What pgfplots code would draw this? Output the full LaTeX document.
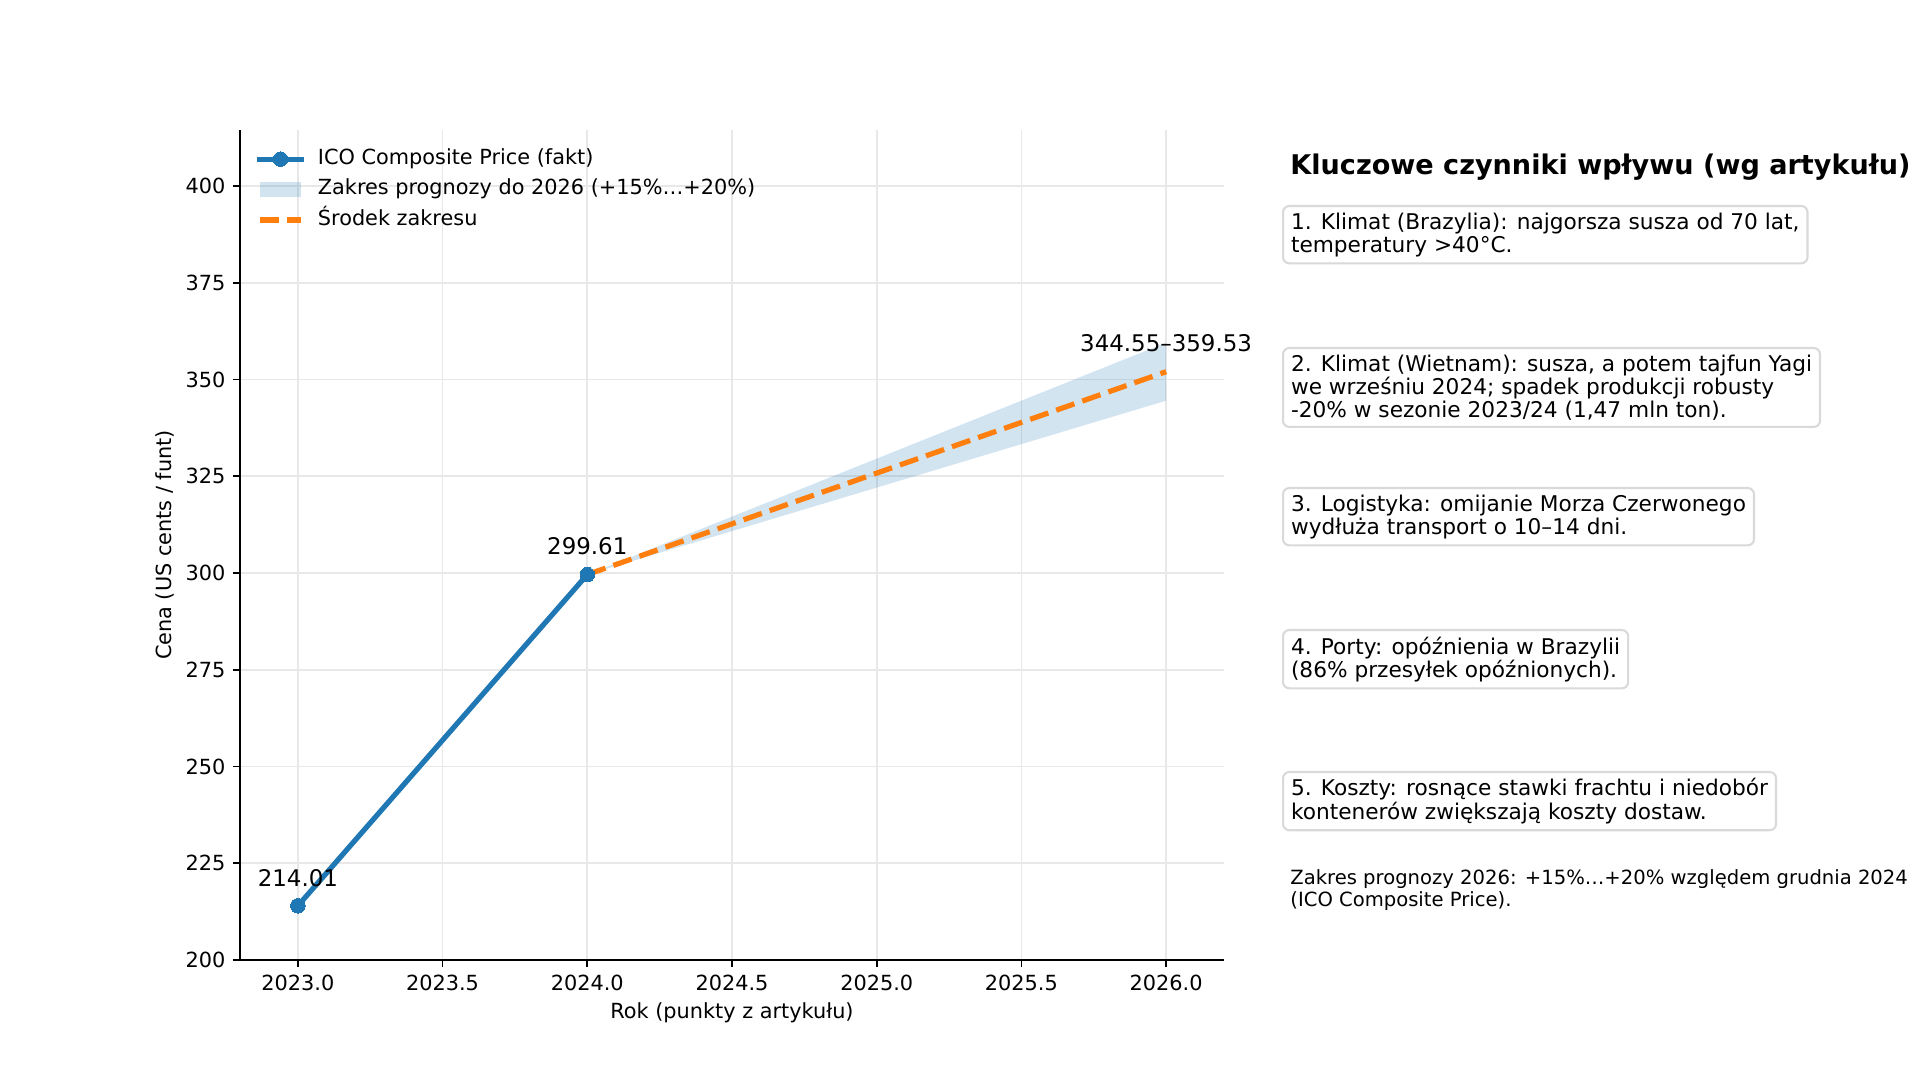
\documentclass[border=0pt]{standalone}
\usepackage{fontspec}
\setmainfont{DejaVu Sans}
\usepackage{pgfplots}
\pgfplotsset{compat=1.18}

\definecolor{c0}{HTML}{1F77B4}
\definecolor{c1}{HTML}{FF7F0E}
\definecolor{gridc}{HTML}{E8E8E8}
\definecolor{boxc}{HTML}{D9D9D9}

\pgfplotsset{
    markleg/.style={legend image code/.code={\draw[mark repeat=2,mark phase=2,##1] plot coordinates {(0pt,0pt) (10pt,0pt) (20pt,0pt)};}},
    arealeg/.style={legend image code/.code={\fill[##1] (0pt,-3.6pt) rectangle (20pt,3.6pt);}},
    lineleg/.style={legend image code/.code={\draw[##1] (0pt,0pt) -- (20pt,0pt);}},
}

\begin{document}
\begin{tikzpicture}
\useasboundingbox (0,0) rectangle (921.6pt,-518.4pt);
\begin{axis}[
    at={(115.2pt,-460.8pt)}, anchor=south west,
    width=472.32pt, height=398.4pt, scale only axis,
    xmin=2022.8, xmax=2026.2,
    ymin=200, ymax=414.5,
    xtick={2023,2023.5,...,2026},
    ytick={200,225,...,400},
    axis lines=left,
    axis line style={-, line width=0.8pt, black},
    tick style={line width=0.8pt, black},
    major tick length=3.5pt,
    tick align=outside,
    grid=major,
    major grid style={gridc, line width=0.8pt},
    /pgf/number format/assume math mode=true,
    tick label style={font=\fontsize{10}{12}\selectfont},
    x tick label style={/pgf/number format/fixed, /pgf/number format/fixed zerofill,
        /pgf/number format/precision=1, /pgf/number format/1000 sep={}},
    label style={font=\fontsize{10}{12}\selectfont},
    xlabel={Rok (punkty z artykułu)},
    ylabel={Cena (US cents / funt)},
    xlabel style={at={(axis description cs:0.5,-0.064)}, anchor=center},
    ylabel style={at={(axis description cs:-0.0762,0.5)}, anchor=center},
    clip=false,
    legend style={at={(axis description cs:0,1)}, anchor=north west,
        xshift=8pt, yshift=-8.8pt, draw=none, fill=none,
        font=\fontsize{10}{12}\selectfont, inner sep=0pt,
        row sep=4.6pt, column sep=6.7pt,
        nodes={inner sep=0pt, text height=7.5pt, text depth=2.5pt}},
    legend cell align=left,
]
% fakt
\addplot[c0, line width=2.5pt, line cap=rect, mark=*, mark size=3.5pt,
    mark options={solid, fill=c0, draw=c0, line width=0pt}, markleg]
    coordinates {(2023,214.01) (2024,299.61)};
\addlegendentry{ICO Composite Price (fakt)}
% zakres prognozy
\addplot[fill=c0, fill opacity=0.2, draw=none, arealeg]
    coordinates {(2024,299.61) (2026,359.53) (2026,344.55) (2024,299.61)};
\addlegendentry{Zakres prognozy do 2026 (+15\%…+20\%)}
% srodek
\addplot[c1, line width=2.5pt, dash pattern=on 9.25pt off 4pt, lineleg]
    coordinates {(2024,299.61) (2026,352.04)};
\addlegendentry{Środek zakresu}

\node[anchor=base, inner sep=0pt, yshift=9.5pt, font=\fontsize{11}{13}\selectfont] at (axis cs:2023,214.01) {214.01};
\node[anchor=base, inner sep=0pt, yshift=9.5pt, font=\fontsize{11}{13}\selectfont] at (axis cs:2024,299.61) {299.61};
\node[anchor=base, inner sep=0pt, yshift=9.7pt, font=\fontsize{11}{13}\selectfont] at (axis cs:2026,352.04) {344.55–359.53};
\end{axis}

\begin{scope}[x=0.48pt, y=-0.48pt,
    boxst/.style={anchor=north west, draw=boxc, line width=1pt, rounded corners=3pt,
        inner xsep=3.84pt, inner ysep=3.15pt, align=left, font=\fontsize{10.4}{11.15}\selectfont}]
\node[anchor=base west, inner sep=0pt, font=\fontsize{13}{15}\selectfont\bfseries] at (1290,175) {Kluczowe czynniki wpływu (wg artykułu)};
\node[boxst] at (1282,205) {1. Klimat (Brazylia): najgorsza susza od 70 lat,\\temperatury >40°C.};
\node[boxst] at (1282,347) {2. Klimat (Wietnam): susza, a potem tajfun Yagi\\we wrześniu 2024; spadek produkcji robusty\\-20\% w sezonie 2023/24 (1,47 mln ton).};
\node[boxst] at (1282,487) {3. Logistyka: omijanie Morza Czerwonego\\wydłuża transport o 10–14 dni.};
\node[boxst] at (1282,629) {4. Porty: opóźnienia w Brazylii\\(86\% przesyłek opóźnionych).};
\node[boxst] at (1282,771) {5. Koszty: rosnące stawki frachtu i niedobór\\kontenerów zwiększają koszty dostaw.};
\node[anchor=base west, inner sep=0pt, align=left, font=\fontsize{9.4}{10.56}\selectfont] at (1290,907) {Zakres prognozy 2026: +15\%…+20\% względem grudnia 2024\\(ICO Composite Price).};
\end{scope}
\end{tikzpicture}
\end{document}
